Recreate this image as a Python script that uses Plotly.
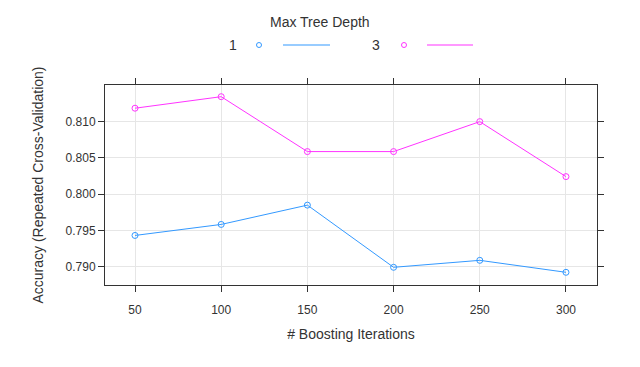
import plotly.graph_objects as go

iterations = [50, 100, 150, 200, 250, 300]
depth_labels = ["1", "3"]
acc_depth1 = [0.79431, 0.79583, 0.79849, 0.78992, 0.79088, 0.78923]
acc_depth3 = [0.81185, 0.81344, 0.80587, 0.80587, 0.81000, 0.80242]
y_ticks = [0.790, 0.795, 0.800, 0.805, 0.810]
y_tick_text = ["0.790", "0.795", "0.800", "0.805", "0.810"]
colors = ["#3399ff", "#ff33ff"]

font = "Liberation Sans, Arial, sans-serif"
fig = go.Figure()
for vals, col, name in zip([acc_depth1, acc_depth3], colors, depth_labels):
    fig.add_trace(go.Scatter(
        x=iterations, y=vals, mode="lines+markers", name=name,
        line=dict(color=col, width=1),
        marker=dict(symbol="circle-open", size=6, color=col, line=dict(width=1)),
        showlegend=False,
    ))

axis_common = dict(
    showline=True, linecolor="#333333", linewidth=1, mirror="allticks",
    ticks="outside", ticklen=6, tickcolor="#333333",
    showgrid=True, gridcolor="#e6e6e6", gridwidth=1, zeroline=False,
    tickfont=dict(family=font, size=12, color="#333333"),
)
fig.update_xaxes(axis_common, range=[32.6, 318], tickvals=iterations, ticklabelstandoff=8,
                 title=dict(text="# Boosting Iterations", font=dict(family=font, size=14, color="#333333"), standoff=12))
fig.update_yaxes(axis_common, range=[0.78748, 0.81505], tickvals=y_ticks, ticktext=y_tick_text,
                 title=dict(text="Accuracy (Repeated Cross-Validation)", font=dict(family=font, size=14, color="#333333"), standoff=18))

# page body has an 8px offset; compensate so the plot box lands where it is in the reference
OFF = 8
W, H = 640 - OFF, 367 - OFF
L, R, T, B = 105 - OFF, 43, 85 - OFF, 82

def px(xp):
    return (xp - OFF - L) / (W - L - R)

def py(yp):
    return (H - B - (yp - OFF)) / (H - T - B)

fig.add_annotation(x=px(320), y=py(22), xref="paper", yref="paper", text="Max Tree Depth", showarrow=False,
                   font=dict(family=font, size=14, color="#333333"), xanchor="center", yanchor="middle")
leg_x = [(233, 259, 283, 330), (376, 404, 427, 473)]
for (tx, cx, lx0, lx1), col, name in zip(leg_x, colors, depth_labels):
    fig.add_annotation(x=px(tx), y=py(45), xref="paper", yref="paper", text=name, showarrow=False,
                       font=dict(family=font, size=14, color="#333333"), xanchor="center", yanchor="middle")
    fig.add_shape(type="circle", xref="paper", yref="paper",
                  x0=px(cx - 2.5), x1=px(cx + 2.5), y0=py(45 + 2.5), y1=py(45 - 2.5),
                  line=dict(color=col, width=1))
    fig.add_shape(type="line", xref="paper", yref="paper",
                  x0=px(lx0), x1=px(lx1), y0=py(45), y1=py(45),
                  line=dict(color=col, width=1.2))

fig.update_layout(
    width=W, height=H, margin=dict(l=L, r=R, t=T, b=B),
    paper_bgcolor="white", plot_bgcolor="white",
    font=dict(family=font, color="#333333"),
)
fig.write_html("out.html")
